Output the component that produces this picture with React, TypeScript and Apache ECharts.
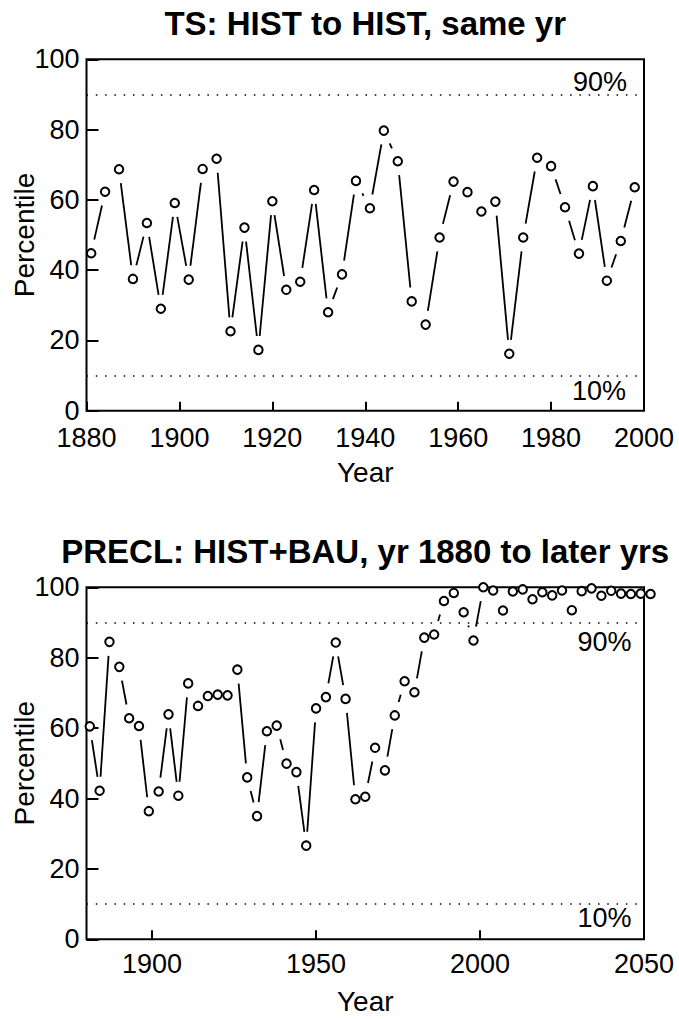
import React, { useEffect, useRef } from "react";
import * as echarts from "echarts";

// ---------- data ----------
const tsYears = [
  1881, 1884, 1887, 1890, 1893, 1896, 1899, 1902, 1905, 1908,
  1911, 1914, 1917, 1920, 1923, 1926, 1929, 1932, 1935, 1938,
  1941, 1944, 1947, 1950, 1953, 1956, 1959, 1962, 1965, 1968,
  1971, 1974, 1977, 1980, 1983, 1986, 1989, 1992, 1995, 1998,
];
const tsPercentile = [
  44.8, 62.3, 68.7, 37.5, 53.4, 29.0, 59.1, 37.3, 68.8, 71.7,
  22.6, 52.1, 17.3, 59.6, 34.4, 36.7, 62.8, 28.0, 38.8, 65.4,
  57.6, 79.7, 71.0, 31.1, 24.5, 49.3, 65.2, 62.2, 56.7, 59.5,
  16.2, 49.3, 72.0, 69.6, 57.9, 44.7, 63.9, 37.0, 48.3, 63.6,
];

const preclYears = [
  1881, 1884, 1887, 1890, 1893, 1896, 1899, 1902, 1905, 1908,
  1911, 1914, 1917, 1920, 1923, 1926, 1929, 1932, 1935, 1938,
  1941, 1944, 1947, 1950, 1953, 1956, 1959, 1962, 1965, 1968,
  1971, 1974, 1977, 1980, 1983, 1986, 1989, 1992, 1995, 1998,
  2001, 2004, 2007, 2010, 2013, 2016, 2019, 2022, 2025, 2028,
  2031, 2034, 2037, 2040, 2043, 2046, 2049, 2052,
];
const preclPercentile = [
  60.5, 42.2, 84.5, 77.4, 62.8, 60.6, 36.4, 42.0, 63.9, 40.8,
  72.7, 66.3, 69.1, 69.5, 69.3, 76.6, 46.0, 35.0, 59.1, 60.7,
  49.9, 47.5, 26.6, 65.6, 68.8, 84.3, 68.3, 39.8, 40.5, 54.4,
  48.0, 63.6, 73.3, 70.2, 85.7, 86.6, 96.1, 98.4, 92.9, 84.9,
  100.0, 99.1, 93.4, 98.8, 99.4, 96.6, 98.6, 97.7, 99.1, 93.5,
  98.9, 99.7, 97.6, 99.0, 98.2, 98.1, 98.2, 98.1,
];

const topXRange = [1880, 2000];
const bottomXRange = [1880, 2050];
const bottomXTicks = [1900, 1950, 2000, 2050];
const yRange = [0, 100];
const thresholds = [90, 10];
const thresholdLabels = ["90%", "10%"];
const titles = ["TS: HIST to HIST, same yr", "PRECL: HIST+BAU, yr 1880 to later yrs"];
const xName = "Year";
const yName = "Percentile";

// ---------- styling ----------
const FONT = "'Liberation Sans', Arial, Helvetica, sans-serif";
const GAP = 14;

function segments(xs: number[], ys: number[]) {
  const out: number[][] = [];
  for (let i = 0; i < xs.length - 1; i++) out.push([xs[i], ys[i], xs[i + 1], ys[i + 1]]);
  return out;
}

function renderSeg(params: any, api: any) {
  const p1 = api.coord([api.value(0), api.value(1)]);
  const p2 = api.coord([api.value(2), api.value(3)]);
  const dx = p2[0] - p1[0];
  const dy = p2[1] - p1[1];
  const len = Math.hypot(dx, dy);
  if (len <= 2 * GAP + 0.5) return { type: "group", children: [] };
  const ux = dx / len;
  const uy = dy / len;
  return {
    type: "line",
    shape: {
      x1: p1[0] + ux * GAP,
      y1: p1[1] + uy * GAP,
      x2: p2[0] - ux * GAP,
      y2: p2[1] - uy * GAP,
    },
    style: { stroke: "#000", lineWidth: 1.8 },
  };
}

const axisLabelStyle = {
  color: "#000",
  fontSize: 27,
  fontFamily: FONT,
  formatter: (v: number) => String(v),
};

export default function App() {
  const ref = useRef<HTMLDivElement>(null);
  useEffect(() => {
    if (!ref.current) return;
    const chart = echarts.init(ref.current, undefined, { renderer: "svg" });
    const grids = [
      { left: 86.5, top: 59.3, width: 557.5, height: 351.4 },
      { left: 86.5, top: 587.3, width: 557.5, height: 352 },
    ].map((g) => ({ ...g, show: true, borderColor: "#000", borderWidth: 2, backgroundColor: "transparent" }));

    const yAxisBase = (gi: number) => ({
      type: "value",
      gridIndex: gi,
      min: yRange[0],
      max: yRange[1],
      interval: 20,
      axisLine: { show: false },
      axisTick: { show: true, inside: true, length: 12, lineStyle: { color: "#000", width: 2 } },
      axisLabel: { ...axisLabelStyle, margin: 7 },
      splitLine: { show: false },
    });

    const markLine = {
      silent: true,
      symbol: ["none", "none"],
      label: { show: false },
      lineStyle: { color: "#000", type: [1.5, 7.8], width: 1.5 },
      data: thresholds.map((t) => ({ yAxis: t })),
    };

    const scatterStyle = {
      symbol: "circle",
      symbolSize: 8.5,
      itemStyle: { color: "#fff", borderColor: "#000", borderWidth: 2, opacity: 1 },
    };

    const option: any = {
      animation: false,
      grid: grids,
      xAxis: [
        {
          type: "value",
          gridIndex: 0,
          min: topXRange[0],
          max: topXRange[1],
          interval: 20,
          axisLine: { show: false },
          axisTick: { show: true, inside: true, length: 9, lineStyle: { color: "#000", width: 2 } },
          axisLabel: { ...axisLabelStyle, margin: 14 },
          splitLine: { show: false },
        },
        {
          type: "value",
          gridIndex: 1,
          min: bottomXRange[0],
          max: bottomXRange[1],
          axisLine: { show: false },
          axisTick: {
            show: true,
            inside: true,
            length: 9,
            customValues: bottomXTicks,
            lineStyle: { color: "#000", width: 2 },
          },
          axisLabel: { ...axisLabelStyle, margin: 11, customValues: bottomXTicks },
          splitLine: { show: false },
        },
      ],
      yAxis: [yAxisBase(0), yAxisBase(1)],
      series: [
        {
          type: "custom",
          xAxisIndex: 0,
          yAxisIndex: 0,
          renderItem: renderSeg,
          data: segments(tsYears, tsPercentile),
          encode: { x: [0, 2], y: [1, 3] },
          silent: true,
        },
        {
          type: "scatter",
          xAxisIndex: 0,
          yAxisIndex: 0,
          clip: false,
          data: tsYears.map((y, i) => [y, tsPercentile[i]]),
          ...scatterStyle,
          markLine,
          z: 3,
        },
        {
          type: "custom",
          xAxisIndex: 1,
          yAxisIndex: 1,
          renderItem: renderSeg,
          data: segments(preclYears, preclPercentile),
          encode: { x: [0, 2], y: [1, 3] },
          silent: true,
        },
        {
          type: "scatter",
          xAxisIndex: 1,
          yAxisIndex: 1,
          clip: false,
          data: preclYears.map((y, i) => [y, preclPercentile[i]]),
          ...scatterStyle,
          markLine,
          z: 3,
        },
      ],
    };
    chart.setOption(option);

    // annotation texts positioned through the axes' scales
    const px = (gi: number, x: number, y: number) => chart.convertToPixel({ gridIndex: gi }, [x, y]) as number[];
    const t90 = px(0, topXRange[1], thresholds[0]);
    const t10 = px(0, topXRange[1], thresholds[1]);
    const b90 = px(1, bottomXRange[1], thresholds[0]);
    const b10 = px(1, bottomXRange[1], thresholds[1]);
    const topMid = px(0, (topXRange[0] + topXRange[1]) / 2, (yRange[0] + yRange[1]) / 2);
    const botMid = px(1, (bottomXRange[0] + bottomXRange[1]) / 2, (yRange[0] + yRange[1]) / 2);
    const topBottom = px(0, topXRange[0], yRange[0]);
    const topTop = px(0, topXRange[0], yRange[1]);
    const botBottom = px(1, bottomXRange[0], yRange[0]);
    const botTop = px(1, bottomXRange[0], yRange[1]);

    const txt = (text: string, x: number, y: number, size: number, align: string, extra: any = {}) => ({
      type: "text",
      x,
      y,
      silent: true,
      style: {
        text,
        fill: "#000",
        fontSize: size,
        fontFamily: FONT,
        align,
        verticalAlign: "middle",
        ...(extra.style || {}),
      },
      ...(extra.el || {}),
    });

    chart.setOption({
      graphic: [
        txt(titles[0], topMid[0], topTop[1] - 36, 33, "center", { style: { fontWeight: "bold" } }),
        txt(titles[1], botMid[0], botTop[1] - 36, 33, "center", { style: { fontWeight: "bold" } }),
        txt(thresholdLabels[0], t90[0] - 17, t90[1] - 12, 27, "right"),
        txt(thresholdLabels[1], t10[0] - 18, t10[1] + 15, 27, "right"),
        txt(thresholdLabels[0], b90[0] - 12.5, b90[1] + 19, 27, "right"),
        txt(thresholdLabels[1], b10[0] - 12.5, b10[1] + 13.5, 27, "right"),
        txt(xName, topMid[0], topBottom[1] + 62, 28, "center"),
        txt(xName, botMid[0], botBottom[1] + 62, 28, "center"),
        txt(yName, 24, topMid[1], 28, "center", { el: { rotation: Math.PI / 2 } }),
        txt(yName, 24, botMid[1], 28, "center", { el: { rotation: Math.PI / 2 } }),
      ],
    });

    return () => chart.dispose();
  }, []);
  return (
    <div
      ref={ref}
      style={{ position: "absolute", left: 0, top: 0, width: 679, height: 1019, background: "#fff" }}
    />
  );
}
